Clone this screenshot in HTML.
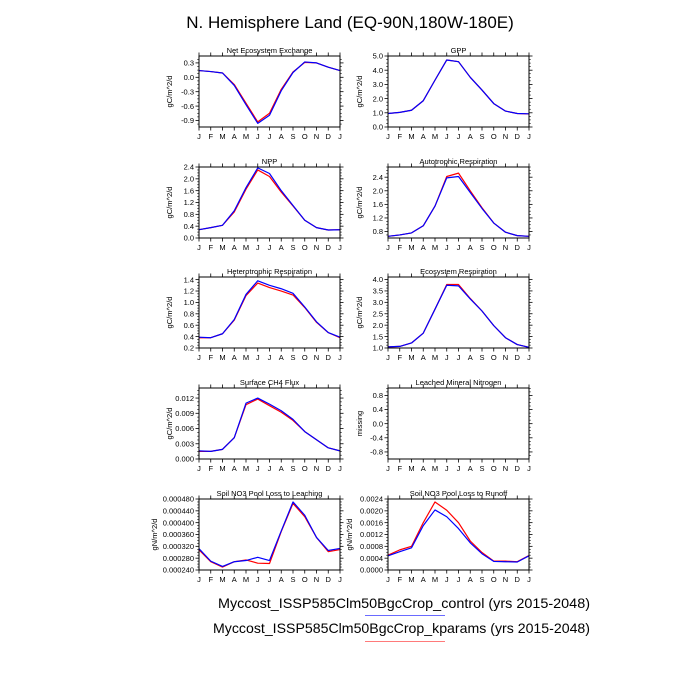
<!DOCTYPE html>
<html><head><meta charset="utf-8"><style>
html,body{margin:0;padding:0;background:#fff;}
svg{display:block;font-family:"Liberation Sans",sans-serif;}
</style></head><body>
<svg id="chart" width="700" height="700" viewBox="0 0 700 700" xmlns="http://www.w3.org/2000/svg">
<rect width="700" height="700" fill="#fff"/>
<text x="350" y="28" font-size="17" text-anchor="middle" fill="#000">N. Hemisphere Land (EQ-90N,180W-180E)</text>
<text x="218" y="608" font-size="14" textLength="372" lengthAdjust="spacingAndGlyphs" fill="#000">Myccost_ISSP585Clm50BgcCrop_control (yrs 2015-2048)</text>
<line x1="365" y1="615.5" x2="445" y2="615.5" stroke="#6a6aff" stroke-width="1"/>
<text x="213" y="633" font-size="14" textLength="377" lengthAdjust="spacingAndGlyphs" fill="#000">Myccost_ISSP585Clm50BgcCrop_kparams (yrs 2015-2048)</text>
<line x1="365" y1="641.5" x2="445" y2="641.5" stroke="#ff7a7a" stroke-width="1"/>
<g id="panels"></g>
</svg>
<script>
const months = ["J","F","M","A","M","J","J","A","S","O","N","D","J"];
const titles = ["Net Ecosystem Exchange","GPP","NPP","Autotrophic Respiration","Heterotrophic Respiration","Ecosystem Respiration","Surface CH4 Flux","Leached Mineral Nitrogen","Soil NO3 Pool Loss to Leaching","Soil NO3 Pool Loss to Runoff"];
const units = ["gC/m^2/d","gC/m^2/d","gC/m^2/d","gC/m^2/d","gC/m^2/d","gC/m^2/d","gC/m^2/d","missing","gN/m^2/d","gN/m^2/d"];
const yMin = [-1.036,0,0,0.61,0.2,1.0,0,-1.0,0.00024,0];
const yMax = [0.444,5.0,2.4,2.7,1.446,4.11,0.01398,1.01,0.00048,0.0024];
const tickVals = [
 [-0.9,-0.6,-0.3,0.0,0.3],[0,1,2,3,4,5],[0,0.4,0.8,1.2,1.6,2.0,2.4],[0.8,1.2,1.6,2.0,2.4],
 [0.2,0.4,0.6,0.8,1.0,1.2,1.4],[1.0,1.5,2.0,2.5,3.0,3.5,4.0],[0,0.003,0.006,0.009,0.012],[-0.8,-0.4,0,0.4,0.8],
 [0.00024,0.00028,0.00032,0.00036,0.0004,0.00044,0.00048],[0,0.0004,0.0008,0.0012,0.0016,0.002,0.0024]];
const tickLabels = [
 ["-0.9","-0.6","-0.3","0.0","0.3"],["0.0","1.0","2.0","3.0","4.0","5.0"],["0.0","0.4","0.8","1.2","1.6","2.0","2.4"],["0.8","1.2","1.6","2.0","2.4"],
 ["0.2","0.4","0.6","0.8","1.0","1.2","1.4"],["1.0","1.5","2.0","2.5","3.0","3.5","4.0"],["0.000","0.003","0.006","0.009","0.012"],["-0.8","-0.4","0.0","0.4","0.8"],
 ["0.000240","0.000280","0.000320","0.000360","0.000400","0.000440","0.000480"],["0.0000","0.0004","0.0008","0.0012","0.0016","0.0020","0.0024"]];
const controlSeries = [
 [0.14,0.12,0.09,-0.17,-0.57,-0.96,-0.79,-0.28,0.10,0.32,0.30,0.21,0.14],
 [0.95,1.03,1.18,1.85,3.3,4.72,4.6,3.5,2.6,1.65,1.12,0.95,0.93],
 [0.28,0.35,0.43,0.92,1.7,2.37,2.18,1.6,1.1,0.6,0.35,0.27,0.28],
 [0.66,0.70,0.76,0.97,1.55,2.38,2.42,1.95,1.48,1.05,0.78,0.68,0.66],
 [0.39,0.38,0.45,0.70,1.14,1.38,1.30,1.24,1.16,0.92,0.66,0.47,0.39],
 [1.05,1.07,1.22,1.65,2.7,3.75,3.72,3.15,2.62,1.98,1.45,1.15,1.03],
 [0.0016,0.0015,0.0019,0.0042,0.011,0.0120,0.0108,0.0095,0.0078,0.0054,0.0038,0.0022,0.0016],
 null,
 [0.000312,0.00027,0.000252,0.000268,0.000272,0.000283,0.000272,0.000372,0.000470,0.000425,0.000350,0.000306,0.000313],
 [0.00048,0.00062,0.00075,0.0015,0.00203,0.0018,0.0014,0.00092,0.00055,0.00029,0.00028,0.00027,0.00048]];
const kparamsSeries = [
 [0.14,0.12,0.09,-0.15,-0.54,-0.93,-0.75,-0.25,0.11,0.31,0.30,0.21,0.14],
 [0.95,1.03,1.18,1.85,3.3,4.72,4.6,3.5,2.6,1.65,1.12,0.95,0.92],
 [0.28,0.35,0.43,0.88,1.65,2.30,2.08,1.55,1.08,0.6,0.35,0.27,0.28],
 [0.66,0.70,0.76,0.97,1.55,2.42,2.52,2.00,1.50,1.05,0.78,0.68,0.66],
 [0.38,0.38,0.45,0.69,1.12,1.34,1.26,1.20,1.13,0.91,0.65,0.47,0.38],
 [1.05,1.07,1.22,1.65,2.7,3.78,3.78,3.17,2.62,1.98,1.45,1.15,1.03],
 [0.0015,0.0015,0.0019,0.0042,0.0107,0.0118,0.0105,0.0092,0.0076,0.0054,0.0038,0.0022,0.0016],
 null,
 [0.000308,0.000268,0.000250,0.000268,0.000274,0.000263,0.000262,0.00037,0.000465,0.00042,0.00035,0.000302,0.000309],
 [0.0005,0.00068,0.0008,0.0016,0.0023,0.00202,0.0016,0.00098,0.00059,0.0003,0.0003,0.00028,0.00049]];

const NS="http://www.w3.org/2000/svg";
const root=document.getElementById("panels");
function mk(tag,attrs,parent){const e=document.createElementNS(NS,tag);for(const k in attrs)e.setAttribute(k,attrs[k]);parent.appendChild(e);return e;}
const colX=[199,388], W=141, H=71, rowY=[56,167,277,388,499];
const unitX=[172,362,172,362,172,362,172,362,157,352];
for(let p=0;p<10;p++){
  const x0=colX[p%2], y0=rowY[Math.floor(p/2)];
  const slug=titles[p].toLowerCase().replace(/[^a-z0-9]+/g,"-").replace(/-$/,"");
  const g=mk("g",{},root);
  
  
  const xs=i=>x0+W*i/12;
  const ys=v=>y0+H*(yMax[p]-v)/(yMax[p]-yMin[p]);
  const t=mk("text",{x:x0+W/2,y:y0-3,"font-size":"7.5","text-anchor":"middle"},g);
  t.textContent=titles[p];
  
  
  for(let i=0;i<13;i++){
    const xx=xs(i);
    mk("line",{x1:xx,y1:y0+H,x2:xx,y2:y0+H+3.5,stroke:"#000","stroke-width":"0.8"},g);
    mk("line",{x1:xx,y1:y0,x2:xx,y2:y0-3.5,stroke:"#000","stroke-width":"0.8"},g);
    const m=mk("text",{x:xx,y:y0+H+12,"font-size":"7.5","text-anchor":"middle"},g);
    m.textContent=months[i];
    
    
  }
  const tv=tickVals[p];
  const step=tv[1]-tv[0];
  for(let k=-1;k<tv.length;k++){
    for(let s=1;s<4;s++){
      const v=(k<0?tv[0]-step:tv[k])+step*s/4;
      if(v<yMin[p]||v>yMax[p])continue;
      const yy=ys(v);
      mk("line",{x1:x0,y1:yy,x2:x0-1.8,y2:yy,stroke:"#000","stroke-width":"0.6"},g);
      mk("line",{x1:x0+W,y1:yy,x2:x0+W+1.8,y2:yy,stroke:"#000","stroke-width":"0.6"},g);
    }
  }
  tv.forEach((v,k)=>{
    const yy=ys(v);
    mk("line",{x1:x0,y1:yy,x2:x0-3.5,y2:yy,stroke:"#000","stroke-width":"0.8"},g);
    mk("line",{x1:x0+W,y1:yy,x2:x0+W+3.5,y2:yy,stroke:"#000","stroke-width":"0.8"},g);
    const l=mk("text",{x:x0-5,y:yy+2.7,"font-size":"7.5","text-anchor":"end"},g);
    l.textContent=tickLabels[p][k];
    
    
  });
  const ux=unitX[p];
  const u=mk("text",{x:ux,y:y0+H/2,"font-size":"7.5","text-anchor":"middle",transform:`rotate(-90 ${ux} ${y0+H/2})`},g);
  u.textContent=units[p];
  
  
  const drawLine=(arr,col,name)=>{
    if(!arr)return;
    const pl=mk("polyline",{points:arr.map((v,i)=>xs(i)+","+ys(v)).join(" "),fill:"none",stroke:col,"stroke-width":"1.2","stroke-linejoin":"round"},g);
    
    
  };
  drawLine(kparamsSeries[p],"#ff0000","line-kparams");
  drawLine(controlSeries[p],"#0000ff","line-control");
  const b=mk("rect",{x:x0,y:y0,width:W,height:H,fill:"none",stroke:"#000","stroke-width":"1"},g);
  
  
}
</script>
</body></html>
